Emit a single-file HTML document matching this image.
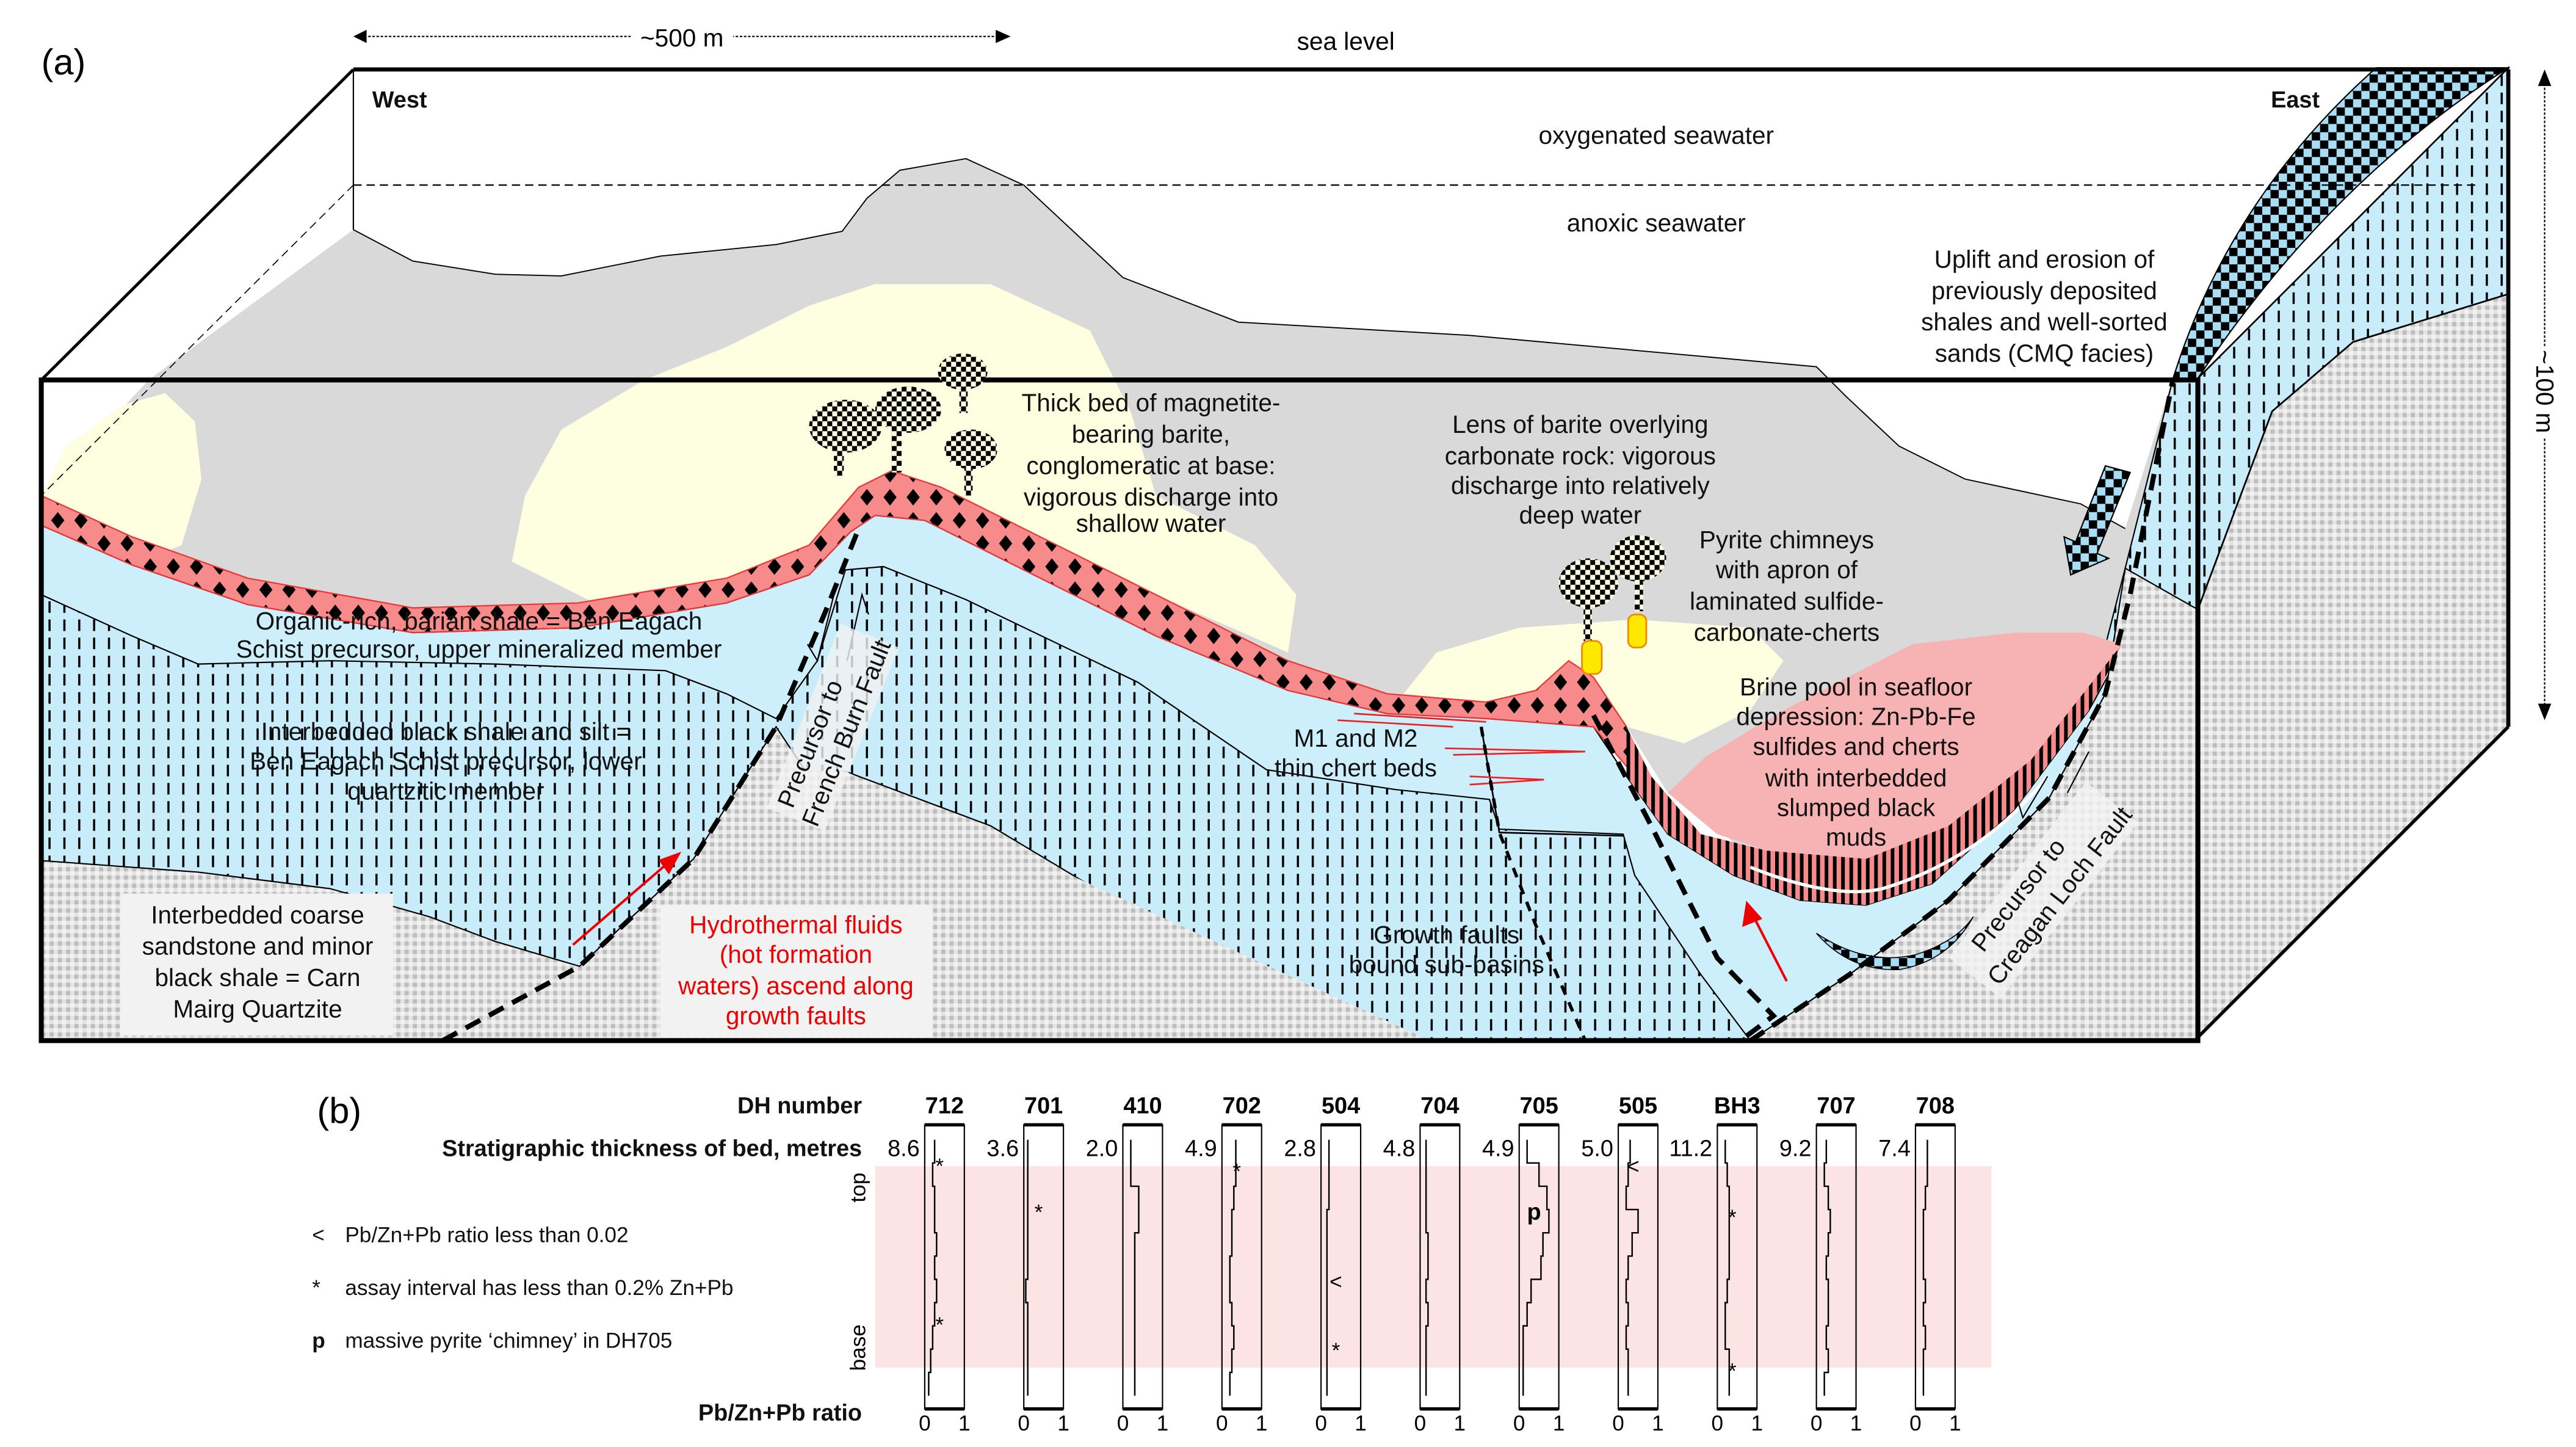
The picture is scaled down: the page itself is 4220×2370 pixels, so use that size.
<!DOCTYPE html>
<html><head><meta charset="utf-8"><style>
html,body{margin:0;padding:0;background:#fff;}
svg{display:block;font-family:"Liberation Sans",sans-serif;}
</style></head><body>
<svg width="4220" height="2370" viewBox="0 0 1560 876" xmlns="http://www.w3.org/2000/svg">
<defs>
<pattern id="dash" width="9" height="11" patternUnits="userSpaceOnUse"><rect width="9" height="11" fill="#c9ecfb"/><line x1="3" y1="1" x2="3" y2="8" stroke="#000" stroke-width="1.3"/></pattern>
<pattern id="speck" width="5" height="5" patternUnits="userSpaceOnUse"><rect width="5" height="5" fill="#e4e4e4"/><rect x="0" y="0" width="2.5" height="2.5" fill="#bdbdbd"/><rect x="2.5" y="2.5" width="2.5" height="2.5" fill="#f2f2f2"/></pattern>
<pattern id="check" width="14" height="14" patternUnits="userSpaceOnUse"><rect width="14" height="14" fill="#f78b8b"/><path d="M7 2 L11 7 L7 12 L3 7Z" fill="#000"/></pattern>
<pattern id="stripe" width="5" height="10" patternUnits="userSpaceOnUse"><rect width="5" height="10" fill="#f78b8b"/><rect x="0" width="2.2" height="10" fill="#000"/></pattern>
<pattern id="bluechk" width="10" height="10" patternUnits="userSpaceOnUse"><rect width="10" height="10" fill="#a8def5"/><rect width="5" height="5" fill="#000"/><rect x="5" y="5" width="5" height="5" fill="#000"/></pattern>
<pattern id="cong" width="6" height="6" patternUnits="userSpaceOnUse"><rect width="6" height="6" fill="#fefee0"/><rect width="3" height="3" fill="#000"/><rect x="3" y="3" width="3" height="3" fill="#000"/></pattern>
</defs>

<!-- PART A -->
<text x="25" y="45" font-size="22">(a)</text>
<g>
<line x1="218" y1="22" x2="605" y2="22" stroke="#000" stroke-width="0.8" stroke-dasharray="1.5,1"/>
<path d="M214 22 L222 18 L222 26Z M612 22 L603 18 L603 26Z" fill="#000"/>
<rect x="382" y="12" width="62" height="20" fill="#fff"/>
<text x="413" y="28" font-size="15" text-anchor="middle">~500 m</text>
</g>
<text x="815" y="30" font-size="15" text-anchor="middle">sea level</text>

<!-- anoxic seawater -->
<path fill="#d9d9d9" d="M214 139 L250 158 L300 166 L340 167 L400 155 L470 148 L510 140 L525 120 L545 103 L585 96 L620 112 L680 168 L750 195 L890 203 L1100 222 L1118 240 L1150 270 L1190 290 L1260 305 L1287 320 L1316 229 L1331 229 L1300 330 L1282 385 L1260 420 L1220 470 L1170 520 L1130 530 L1090 525 L1050 510 L1010 480 L985 440 L965 410 L950 400 L930 418 L900 425 L840 420 L780 400 L700 360 L620 320 L570 295 L540 285 L520 295 L490 330 L440 350 L350 365 L250 368 L150 350 L80 325 L25 300 L90 230Z"/>
<!-- yellow blobs -->
<path fill="#fefee0" d="M25 300 L40 270 L75 245 L100 238 L118 255 L122 290 L110 330 L90 338 L60 322Z"/>
<path fill="#fefee0" d="M310 340 L318 300 L340 260 L390 230 L440 210 L490 185 L530 172 L600 172 L660 200 L685 250 L700 300 L760 330 L785 360 L780 395 L700 360 L620 320 L570 295 L540 285 L520 295 L490 330 L440 350 L360 365Z"/>
<path fill="#fefee0" d="M850 420 L870 395 L920 380 L990 375 L1060 380 L1080 400 L1060 430 L1020 450 L985 440 L965 410 L950 400 L930 418 L900 425Z"/>

<!-- dashed blue base -->
<path fill="url(#dash)" stroke="#000" stroke-width="0.8" d="M25 318 L80 342 L150 366 L250 383 L350 380 L440 365 L490 348 L515 322 L530 312 L560 315 L620 345 L700 385 L780 418 L840 432 L900 435 L965 440 L985 470 L1010 505 L1050 530 L1090 545 L1130 548 L1170 535 L1220 490 L1265 430 L1287 344 L1316 229 L1331 229 L1331 630 L25 630Z"/>
<!-- plain blue upper member -->
<path fill="#cdeefb" stroke="#000" stroke-width="0.8" d="M25 318 L80 342 L150 366 L250 383 L350 380 L440 365 L490 348 L515 322 L530 312 L560 315 L620 345 L700 385 L780 418 L840 432 L900 435 L965 440 L985 470 L1010 505 L1050 530 L1090 545 L1130 548 L1170 535 L1220 490 L1265 430 L1290 385 L1260 470 L1220 530 L1160 580 L1100 615 L1074 630 L1060 630 L1030 590 L990 530 L983 505 L908 502 L902 484 L845 478 L767 466 L689 413 L585 363 L535 343 L512 345 L495 400 L470 435 L440 420 L403 406 L300 402 L200 400 L120 402 L80 385 L25 360Z"/>
<!-- grey speckle -->
<path fill="url(#speck)" stroke="#000" stroke-width="0.8" d="M25 521 L120 528 L200 538 L260 555 L300 570 L351 585 L420 520 L470 440 L490 470 L512 467 L600 500 L700 560 L780 600 L866 630 L25 630Z"/>
<path fill="url(#speck)" d="M480 466 L512 467 L866 630 L740 630 L600 560Z"/>
<path fill="url(#speck)" stroke="#000" stroke-width="0.8" d="M1060 630 L1120 590 L1180 545 L1241 483 L1275 420 L1287 344 L1331 369 L1331 630Z"/>

<!-- fault block step -->
<path fill="none" stroke="#000" stroke-width="1" d="M897 440 L908 504 L983 506"/>

<!-- red mineralized layer -->
<path fill="url(#check)" stroke="#e33" stroke-width="0.8" d="M25 300 L80 325 L150 350 L250 368 L350 365 L440 350 L490 330 L520 295 L540 285 L570 295 L620 320 L700 360 L780 400 L840 420 L900 425 L930 418 L950 400 L965 410 L985 440 L990 470 L965 440 L900 435 L840 432 L780 418 L700 385 L620 345 L560 315 L530 312 L515 322 L490 348 L440 365 L350 380 L250 383 L150 366 L80 342 L25 318Z"/>
<!-- brine pool -->
<path fill="#f7b3b3" d="M1010 480 L1033 458 L1080 430 L1158 390 L1220 383 L1262 383 L1285 390 L1270 420 L1230 460 L1180 500 L1130 520 L1070 515 L1040 505Z"/>
<path fill="url(#stripe)" d="M985 440 L1000 470 L1030 505 L1070 515 L1130 520 L1180 500 L1230 460 L1285 390 L1265 430 L1220 490 L1170 535 L1130 548 L1090 545 L1050 530 L1010 505 L985 470Z"/>
<path fill="none" stroke="#fff" stroke-width="2" d="M1060 525 Q1110 545 1140 538 Q1200 520 1240 470"/>
<path fill="url(#bluechk)" stroke="#000" stroke-width="0.6" d="M1100 565 Q1130 585 1160 578 Q1185 570 1195 555 Q1180 582 1150 587 Q1120 588 1100 565Z"/>

<!-- chert beds -->
<g stroke="#e22" stroke-width="1" fill="none">
<path d="M820 432 L900 437 M810 436 L880 440"/><path d="M875 453 L960 455 L880 457"/><path d="M890 470 L935 472 L890 475"/>
</g>

<!-- right face -->
<path fill="url(#dash)" stroke="#000" stroke-width="1" d="M1331 229 L1519 41 L1519 178 L1425 207 L1376 249 L1331 369Z"/>
<path fill="url(#speck)" stroke="#000" stroke-width="1" d="M1331 369 L1376 249 L1425 207 L1519 178 L1519 440 L1331 628Z"/>
<path fill="url(#bluechk)" stroke="#000" stroke-width="0.8" d="M1316 229 Q1350 120 1439 41 L1519 41 Q1410 110 1331 229Z"/>

<!-- box lines -->
<g fill="none" stroke="#000">
<line x1="214" y1="42" x2="1519" y2="42" stroke-width="2.5"/>
<line x1="25" y1="230" x2="214" y2="42" stroke-width="1.8"/>
<line x1="214" y1="42" x2="214" y2="139" stroke-width="0.8"/>
<line x1="214" y1="112" x2="1500" y2="112" stroke-width="0.8" stroke-dasharray="5,3"/>
<line x1="214" y1="112" x2="25" y2="300" stroke-width="0.6" stroke-dasharray="5,3"/>
<rect x="25" y="230" width="1306" height="400" stroke-width="3"/>
<line x1="1331" y1="628" x2="1519" y2="440" stroke-width="2"/>
<line x1="1519" y1="42" x2="1519" y2="440" stroke-width="2.5"/>
</g>
<path fill="none" stroke="#000" stroke-width="0.7" d="M214 139 L250 158 L300 166 L340 167 L400 155 L470 148 L510 140 L525 120 L545 103 L585 96 L620 112 L680 168 L750 195 L890 203 L1100 222 L1118 240 L1150 270 L1190 290 L1260 305 L1287 320"/>

<!-- faults -->
<g fill="none" stroke="#000" stroke-width="3" stroke-dasharray="10,6">
<path d="M268 630 L351 585 L420 520 L470 440 L500 370 L520 320"/>
<path d="M897 440 L908 504 L930 560 L960 630" stroke-width="2" stroke-dasharray="6,5"/>
<path d="M965 433 L1000 500 L1040 580 L1074 615 L1054 630"/>
<path d="M1060 630 L1120 590 L1180 545 L1241 483 L1275 420 L1290 360 L1316 229"/>
</g>
<g stroke="#000" stroke-width="0.8" fill="none">
<path d="M505 360 L495 400 L489 390"/><path d="M513 400 L522 360 L526 372"/>
<path d="M1240 470 L1225 495 L1222 485"/><path d="M1252 480 L1265 455"/>
</g>

<!-- red arrows -->
<g stroke="#e00" stroke-width="1.5" fill="#e00">
<line x1="347" y1="572" x2="405" y2="522"/><path d="M411 517 L400 521 L405 528Z"/>
<line x1="1082" y1="594" x2="1062" y2="555"/><path d="M1058 547 L1056 560 L1066 556Z"/>
</g>

<!-- conglomerate clouds & chimneys -->
<g fill="url(#cong)">
<ellipse cx="512" cy="258" rx="22" ry="16"/><ellipse cx="550" cy="248" rx="20" ry="14"/><ellipse cx="583" cy="225" rx="15" ry="11"/><ellipse cx="588" cy="272" rx="16" ry="12"/>
<rect x="505" y="268" width="6" height="20"/><rect x="540" y="258" width="6" height="28"/><rect x="581" y="232" width="5" height="18"/><rect x="584" y="280" width="5" height="20"/>
<ellipse cx="962" cy="353" rx="18" ry="15"/><ellipse cx="992" cy="338" rx="17" ry="14"/>
<rect x="959" y="362" width="5" height="26"/><rect x="990" y="348" width="5" height="22"/>
</g>
<g fill="#ffe800" stroke="#e80" stroke-width="1">
<rect x="958" y="388" width="12" height="20" rx="4"/><rect x="986" y="372" width="11" height="20" rx="4"/>
</g>
<path fill="url(#bluechk)" stroke="#000" stroke-width="0.8" d="M1275 282 L1290 286 L1270 335 L1277 338 L1254 348 L1250 325 L1257 328Z"/>

<!-- labels -->
<g font-size="15" text-anchor="middle" fill="#111">
<text x="242" y="65" font-size="14" font-weight="bold">West</text>
<text x="1390" y="65" font-size="14" font-weight="bold">East</text>
<text x="1003" y="87">oxygenated seawater</text>
<text x="1003" y="140">anoxic seawater</text>
<text x="1238" y="162">Uplift and erosion of</text><text x="1238" y="181">previously deposited</text><text x="1238" y="200">shales and well-sorted</text><text x="1238" y="219">sands (CMQ facies)</text>
<text x="697" y="249">Thick bed of magnetite-</text><text x="697" y="268">bearing barite,</text><text x="697" y="287">conglomeratic at base:</text><text x="697" y="306">vigorous discharge into</text><text x="697" y="322">shallow water</text>
<text x="957" y="262">Lens of barite overlying</text><text x="957" y="281">carbonate rock: vigorous</text><text x="957" y="299">discharge into relatively</text><text x="957" y="317">deep water</text>
<text x="1082" y="332">Pyrite chimneys</text><text x="1082" y="350">with apron of</text><text x="1082" y="369">laminated sulfide-</text><text x="1082" y="388">carbonate-cherts</text>
<text x="1124" y="421">Brine pool in seafloor</text><text x="1124" y="439">depression: Zn-Pb-Fe</text><text x="1124" y="457">sulfides and cherts</text><text x="1124" y="476">with interbedded</text><text x="1124" y="494">slumped black</text><text x="1124" y="512">muds</text>
<text x="290" y="381">Organic-rich, barian shale = Ben Eagach</text><text x="290" y="398">Schist precursor, upper mineralized member</text>
<text x="270" y="448">Interbedded black shale and silt =</text><text x="270" y="466">Ben Eagach Schist precursor, lower</text><text x="270" y="484">quartzitic member</text>
<text x="821" y="452">M1 and M2</text><text x="821" y="470">thin chert beds</text>
<text x="876" y="571">Growth faults</text><text x="876" y="589">bound sub-basins</text>
</g>
<rect x="73" y="541" width="165" height="86" fill="#f2f2f2"/>
<g font-size="15" text-anchor="middle" fill="#111">
<text x="156" y="559">Interbedded coarse</text><text x="156" y="578">sandstone and minor</text><text x="156" y="597">black shale = Carn</text><text x="156" y="616">Mairg Quartzite</text>
</g>
<rect x="400" y="548" width="165" height="80" fill="#f2f2f2"/>
<g font-size="15" text-anchor="middle" fill="#e00">
<text x="482" y="565">Hydrothermal fluids</text><text x="482" y="583">(hot formation</text><text x="482" y="602">waters) ascend along</text><text x="482" y="620">growth faults</text>
</g>
<g font-size="15" fill="#111" transform="translate(480,490) rotate(-68)">
<rect x="-5" y="-15" width="120" height="38" fill="#f2f2f2" opacity="0.8"/>
<text x="0" y="0">Precursor to</text><text x="-5" y="18">French Burn Fault</text>
</g>
<g font-size="15" fill="#111" transform="translate(1195,585) rotate(-52)">
<rect x="-5" y="-15" width="135" height="40" fill="#f2f2f2" opacity="0.8"/>
<text x="10" y="0">Precursor to</text><text x="0" y="20">Creagan Loch Fault</text>
</g>
<g>
<line x1="1541" y1="48" x2="1541" y2="430" stroke="#000" stroke-width="0.8" stroke-dasharray="1.5,1"/>
<path d="M1541 42 L1537 52 L1545 52Z M1541 436 L1537 426 L1545 426Z" fill="#000"/>
<rect x="1531" y="210" width="20" height="55" fill="#fff"/>
<text x="1541" y="237" font-size="15" text-anchor="middle" transform="rotate(90 1541 237)" dy="5">~100 m</text>
</g>

<!-- PART B -->
<text x="192" y="680" font-size="22">(b)</text>
<rect x="530" y="706" width="676" height="122" fill="#fde4e4"/>
<g font-size="14" font-weight="bold" text-anchor="end" fill="#111">
<text x="522" y="674">DH number</text>
<text x="522" y="700">Stratigraphic thickness of bed, metres</text>
<text x="522" y="860">Pb/Zn+Pb ratio</text>
</g>
<text font-size="13" transform="translate(524,728) rotate(-90)">top</text>
<text font-size="13" transform="translate(524,830) rotate(-90)">base</text>
<g font-size="13" fill="#111">
<text x="189" y="752">&lt;</text><text x="209" y="752">Pb/Zn+Pb ratio less than 0.02</text>
<text x="189" y="784">*</text><text x="209" y="784">assay interval has less than 0.2% Zn+Pb</text>
<text x="189" y="816" font-weight="bold">p</text><text x="209" y="816">massive pyrite ‘chimney’ in DH705</text>
</g>
<g id="cols"></g>

<script>
const holes = ["712","701","410","702","504","704","705","505","BH3","707","708"];
const thickness = ["8.6","3.6","2.0","4.9","2.8","4.8","4.9","5.0","11.2","9.2","7.4"];
const ratio712 = [0.25,0.2,0.25,0.25,0.3,0.25,0.3,0.25,0.2,0.15,0.1];
const ratio701 = [0.1,0.1,0.1,0.1,0.1,0.1,0.05,0.1,0.1,0.1,0.1];
const ratio410 = [0.2,0.2,0.4,0.4,0.3,0.3,0.3,0.3,0.3,0.3,0.3];
const ratio702 = [0.35,0.35,0.3,0.25,0.25,0.2,0.2,0.25,0.3,0.25,0.2];
const ratio504 = [0.2,0.2,0.2,0.15,0.15,0.15,0.15,0.15,0.15,0.15,0.15];
const ratio704 = [0.15,0.15,0.15,0.15,0.2,0.2,0.15,0.2,0.15,0.15,0.15];
const ratio705 = [0.2,0.5,0.7,0.75,0.6,0.55,0.3,0.2,0.1,0.1,0.1];
const ratio505 = [0.3,0.25,0.2,0.5,0.35,0.25,0.2,0.25,0.2,0.25,0.25];
const ratioBH3 = [0.2,0.25,0.3,0.3,0.3,0.3,0.25,0.2,0.2,0.3,0.3];
const ratio707 = [0.25,0.2,0.3,0.35,0.3,0.25,0.3,0.3,0.25,0.3,0.2];
const ratio708 = [0.3,0.3,0.25,0.2,0.2,0.2,0.25,0.2,0.25,0.2,0.2];
const ratios = [ratio712,ratio701,ratio410,ratio702,ratio504,ratio704,ratio705,ratio505,ratioBH3,ratio707,ratio708];
const notes = [[["*",0.1],["*",0.72]],[["*",0.28]],[],[["*",0.12]],[["<",0.55],["*",0.82]],[],[["p",0.28]],[["<",0.1]],[["*",0.3],["*",0.9]],[],[]];

const NS="http://www.w3.org/2000/svg";
const g=document.getElementById('cols');
const colX=i=>560+60*i, colW=24, yTop=681, yBot=853, trTop=690, trBot=845;
const xs=(i,v)=>colX(i)+v*colW;
const ys=f=>trTop+f*(trBot-trTop);
function mk(t,a){const e=document.createElementNS(NS,t);for(const k in a)e.setAttribute(k,a[k]);g.appendChild(e);return e;}
holes.forEach((h,i)=>{
  const x0=colX(i);
  const box=mk('rect',{x:x0,y:yTop,width:colW,height:yBot-yTop,fill:'#fff',stroke:'#000','stroke-width':0.8});
  
  
  box.setAttribute('fill-opacity','0');
  mk('line',{x1:x0,y1:yTop,x2:x0+colW,y2:yTop,stroke:'#000','stroke-width':2});
  mk('line',{x1:x0,y1:yBot,x2:x0+colW,y2:yBot,stroke:'#000','stroke-width':2});
  const lbl=mk('text',{x:x0+12,y:674,'font-size':14,'font-weight':'bold','text-anchor':'middle'});
  lbl.textContent=h;
  
  
  const th=mk('text',{x:x0-3,y:700,'font-size':14,'text-anchor':'end'});
  th.textContent=thickness[i];
  
  
  const t0=mk('text',{x:x0,y:866,'font-size':13,'text-anchor':'middle'});t0.textContent='0';
  
  
  const t1=mk('text',{x:x0+colW,y:866,'font-size':13,'text-anchor':'middle'});t1.textContent='1';
  
  
  const r=ratios[i], n=r.length;
  let d='';
  r.forEach((v,k)=>{const ya=ys(k/n), yb=ys((k+1)/n); d+=(k?'L':'M')+xs(i,v)+' '+ya+' L'+xs(i,v)+' '+yb+' ';});
  const p=mk('path',{d:d,fill:'none',stroke:'#000','stroke-width':0.9});
  
  
  notes[i].forEach(([s,f])=>{
    const t=mk('text',{x:x0+9,y:ys(f)+5,'font-size':s==='p'?14:13,'font-weight':s==='p'?'bold':'normal','text-anchor':'middle'});
    t.textContent=s;
    
    
  });
});
</script>
</svg>
</body></html>
